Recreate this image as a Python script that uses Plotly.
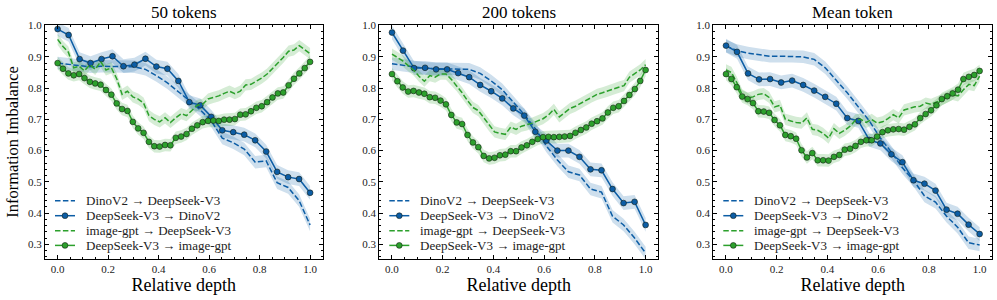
import numpy as np
import plotly.graph_objects as go

# ---------------- data ----------------
panel_titles = ["50 tokens", "200 tokens", "Mean token"]
series_names = ["DinoV2 \u2192 DeepSeek-V3", "DeepSeek-V3 \u2192 DinoV2",
                "image-gpt \u2192 DeepSeek-V3", "DeepSeek-V3 \u2192 image-gpt"]

depth_dino = np.linspace(0, 1, 24)   # relative depth, 24 layers
depth_igpt = np.linspace(0, 1, 48)   # relative depth, 48 layers

# Panel 1: 50 tokens
p1_dino_to_ds = [0.880, 0.876, 0.872, 0.868, 0.870, 0.870, 0.870, 0.868, 0.860, 0.840, 0.817, 0.790,
                 0.760, 0.730, 0.695, 0.640, 0.625, 0.605, 0.563, 0.567, 0.497, 0.482, 0.440, 0.362]
p1_ds_to_dino = [0.989, 0.970, 0.893, 0.880, 0.893, 0.902, 0.870, 0.875, 0.894, 0.869, 0.862, 0.823,
                 0.755, 0.745, 0.708, 0.665, 0.659, 0.651, 0.633, 0.597, 0.532, 0.515, 0.509, 0.465]
p1_igpt_to_ds = [0.956, 0.933, 0.915, 0.865, 0.870, 0.855, 0.875, 0.860, 0.885, 0.858, 0.865, 0.830,
                 0.780, 0.790, 0.772, 0.765, 0.752, 0.712, 0.700, 0.692, 0.705, 0.690, 0.705, 0.718,
                 0.712, 0.728, 0.745, 0.748, 0.765, 0.770, 0.775, 0.783, 0.790, 0.782, 0.790, 0.810,
                 0.812, 0.822, 0.832, 0.845, 0.862, 0.880, 0.898, 0.918, 0.922, 0.936, 0.922, 0.910]
p1_ds_to_igpt = [0.880, 0.862, 0.847, 0.841, 0.845, 0.832, 0.820, 0.815, 0.811, 0.794, 0.779, 0.751,
                 0.733, 0.727, 0.692, 0.671, 0.657, 0.628, 0.614, 0.613, 0.618, 0.617, 0.641, 0.645,
                 0.653, 0.670, 0.681, 0.691, 0.695, 0.696, 0.695, 0.699, 0.699, 0.701, 0.715, 0.716,
                 0.726, 0.737, 0.742, 0.755, 0.770, 0.783, 0.786, 0.809, 0.830, 0.847, 0.864, 0.884]

# Panel 2: 200 tokens
p2_dino_to_ds = [0.878, 0.873, 0.868, 0.863, 0.862, 0.862, 0.862, 0.860, 0.847, 0.823, 0.795, 0.755,
                 0.715, 0.670, 0.615, 0.570, 0.532, 0.522, 0.477, 0.467, 0.390, 0.362, 0.320, 0.272]
p2_ds_to_dino = [0.978, 0.920, 0.864, 0.865, 0.860, 0.860, 0.848, 0.835, 0.810, 0.790, 0.767, 0.735,
                 0.712, 0.660, 0.632, 0.600, 0.600, 0.580, 0.540, 0.537, 0.477, 0.432, 0.436, 0.362]
p2_igpt_to_ds = [0.909, 0.898, 0.887, 0.872, 0.858, 0.838, 0.822, 0.840, 0.835, 0.845, 0.845, 0.828,
                 0.808, 0.785, 0.760, 0.738, 0.728, 0.705, 0.680, 0.660, 0.655, 0.652, 0.675, 0.668,
                 0.678, 0.682, 0.688, 0.695, 0.702, 0.714, 0.732, 0.708, 0.722, 0.735, 0.742, 0.752,
                 0.762, 0.772, 0.780, 0.785, 0.790, 0.797, 0.803, 0.808, 0.835, 0.846, 0.858, 0.875]
p2_ds_to_igpt = [0.845, 0.822, 0.802, 0.789, 0.791, 0.786, 0.782, 0.771, 0.769, 0.760, 0.748, 0.714,
                 0.690, 0.685, 0.650, 0.626, 0.611, 0.583, 0.575, 0.577, 0.585, 0.587, 0.598, 0.598,
                 0.610, 0.617, 0.628, 0.637, 0.643, 0.644, 0.643, 0.644, 0.645, 0.647, 0.657, 0.666,
                 0.674, 0.686, 0.694, 0.703, 0.722, 0.737, 0.742, 0.759, 0.778, 0.797, 0.823, 0.858]

# Panel 3: mean token
p3_dino_to_ds = [0.935, 0.920, 0.912, 0.907, 0.902, 0.902, 0.902, 0.900, 0.892, 0.865, 0.825, 0.785,
                 0.740, 0.695, 0.640, 0.595, 0.545, 0.505, 0.455, 0.435, 0.390, 0.355, 0.305, 0.298]
p3_ds_to_dino = [0.936, 0.916, 0.847, 0.828, 0.829, 0.818, 0.824, 0.810, 0.792, 0.772, 0.750, 0.704,
                 0.695, 0.634, 0.623, 0.588, 0.563, 0.505, 0.494, 0.472, 0.411, 0.398, 0.363, 0.333]
p3_igpt_to_ds = [0.858, 0.850, 0.818, 0.778, 0.768, 0.772, 0.780, 0.782, 0.770, 0.740, 0.745, 0.700,
                 0.695, 0.690, 0.688, 0.705, 0.668, 0.665, 0.655, 0.640, 0.670, 0.655, 0.665, 0.678,
                 0.698, 0.700, 0.690, 0.700, 0.688, 0.692, 0.702, 0.715, 0.705, 0.730, 0.735, 0.740,
                 0.742, 0.752, 0.748, 0.755, 0.762, 0.770, 0.780, 0.775, 0.795, 0.812, 0.808, 0.838]
p3_ds_to_igpt = [0.845, 0.829, 0.803, 0.773, 0.765, 0.752, 0.726, 0.725, 0.721, 0.698, 0.681, 0.650,
                 0.646, 0.638, 0.601, 0.578, 0.592, 0.569, 0.569, 0.568, 0.580, 0.586, 0.603, 0.606,
                 0.615, 0.628, 0.633, 0.633, 0.645, 0.659, 0.665, 0.668, 0.669, 0.667, 0.676, 0.684,
                 0.704, 0.717, 0.729, 0.745, 0.765, 0.774, 0.783, 0.795, 0.829, 0.836, 0.842, 0.855]

# half-width of the shaded uncertainty band per series
band_halfwidth = [0.02, 0.022, 0.018, 0.02]

x_ticks = [0.0, 0.2, 0.4, 0.6, 0.8, 1.0]
y_ticks = [0.3, 0.4, 0.5, 0.6, 0.7, 0.8, 0.9, 1.0]

panels = [
    (p1_dino_to_ds, p1_ds_to_dino, p1_igpt_to_ds, p1_ds_to_igpt),
    (p2_dino_to_ds, p2_ds_to_dino, p2_igpt_to_ds, p2_ds_to_igpt),
    (p3_dino_to_ds, p3_ds_to_dino, p3_igpt_to_ds, p3_ds_to_igpt),
]

# ---------------- style ----------------
BLUE = "#0C5DA5"
GREEN = "#2ca02c"
BLUE_FILL = "rgba(12,93,165,0.2)"
GREEN_FILL = "rgba(44,160,44,0.2)"
FONT = "Liberation Serif"
DASH = "5.5px,2.4px"
MARKER_EDGE = "rgba(20,30,20,0.85)"

series_style = [
    dict(color=BLUE, fill=BLUE_FILL, dash=DASH, markers=False, x=depth_dino),
    dict(color=BLUE, fill=BLUE_FILL, dash="solid", markers=True, x=depth_dino),
    dict(color=GREEN, fill=GREEN_FILL, dash=DASH, markers=False, x=depth_igpt),
    dict(color=GREEN, fill=GREEN_FILL, dash="solid", markers=True, x=depth_igpt),
]

W, H = 997, 300
FRAME_TOP, FRAME_BOTTOM = 25, 259
x_px = [(45, 322.7), (379.3, 658.3), (713.3, 992.3)]
x_domains = [(a / W, b / W) for a, b in x_px]
y_domain = (1 - FRAME_BOTTOM / H, 1 - FRAME_TOP / H)
frame_h = FRAME_BOTTOM - FRAME_TOP

# legend row centres (px from top) and horizontal layout (px from frame left)
legend_rows = [200.7, 215.7, 230.7, 245.4]
LEG_LINE = (10, 30)
LEG_TEXT = 39

fig = go.Figure()
shapes, annotations = [], []

for p, vals in enumerate(panels):
    sfx = "" if p == 0 else str(p + 1)
    xa, ya = "x" + sfx, "y" + sfx
    # bands first
    for s, v in enumerate(vals):
        st = series_style[s]
        v = np.array(v)
        lo = v - band_halfwidth[s]
        hi = v + band_halfwidth[s]
        xs = np.concatenate([st["x"], st["x"][::-1]])
        ys = np.concatenate([hi, lo[::-1]])
        fig.add_trace(go.Scatter(x=xs, y=ys, fill="toself", fillcolor=st["fill"],
                                 line=dict(width=0), mode="lines", hoverinfo="skip",
                                 showlegend=False, xaxis=xa, yaxis=ya))
    for s, v in enumerate(vals):
        st = series_style[s]
        fig.add_trace(go.Scatter(
            x=st["x"], y=v, name=series_names[s],
            mode="lines+markers" if st["markers"] else "lines",
            line=dict(color=st["color"], width=1.5, dash=st["dash"]),
            marker=dict(size=5.8, color=st["color"], line=dict(color=MARKER_EDGE, width=0.7)),
            xaxis=xa, yaxis=ya, showlegend=False))

    # legend (drawn in the panel's domain coordinates)
    fw = x_px[p][1] - x_px[p][0]
    for s, row in enumerate(legend_rows):
        st = series_style[s]
        yd = (FRAME_BOTTOM - row) / frame_h
        shapes.append(dict(type="line", xref=xa + " domain", yref=ya + " domain",
                           x0=LEG_LINE[0] / fw, x1=LEG_LINE[1] / fw, y0=yd, y1=yd,
                           line=dict(color=st["color"], width=1.5, dash=st["dash"])))
        if st["markers"]:
            xm = (LEG_LINE[0] + LEG_LINE[1]) / 2 / fw
            shapes.append(dict(type="circle", xref=xa + " domain", yref=ya + " domain",
                               xsizemode="pixel", ysizemode="pixel", xanchor=xm, yanchor=yd,
                               x0=-2.9, x1=2.9, y0=-2.9, y1=2.9,
                               fillcolor=st["color"], line=dict(color=MARKER_EDGE, width=0.7)))
        annotations.append(dict(text=series_names[s], xref=xa + " domain", yref=ya + " domain",
                                x=LEG_TEXT / fw, y=yd, xanchor="left", yanchor="middle",
                                showarrow=False, font=dict(family=FONT, size=13, color="#222")))

axis_common = dict(showline=True, linecolor="black", linewidth=1, mirror="allticks",
                   ticks="inside", ticklen=4, tickwidth=0.8, tickcolor="black",
                   showgrid=False, zeroline=False, automargin=False,
                   tickfont=dict(family=FONT, size=11, color="#222"))

layout = dict(width=W, height=H, margin=dict(l=0, r=0, t=0, b=0),
              plot_bgcolor="white", paper_bgcolor="white",
              font=dict(family=FONT, color="black"), showlegend=False)

for p in range(3):
    sfx = "" if p == 0 else str(p + 1)
    layout["xaxis" + sfx] = dict(
        axis_common, domain=list(x_domains[p]), range=[-0.05, 1.05], anchor="y" + sfx,
        tickvals=x_ticks, ticktext=["%.1f" % t for t in x_ticks],
        minor=dict(ticks="inside", ticklen=2, tickwidth=0.6, tickcolor="black", dtick=0.05, tick0=0),
        title=dict(text="Relative depth", font=dict(family=FONT, size=18), standoff=2))
    layout["yaxis" + sfx] = dict(
        axis_common, domain=list(y_domain), range=[0.253, 1.002], anchor="x" + sfx,
        tickvals=y_ticks, ticktext=["%.1f" % t for t in y_ticks],
        minor=dict(ticks="inside", ticklen=2, tickwidth=0.6, tickcolor="black", dtick=0.02, tick0=0),
        title=dict(text="Information Imbalance" if p == 0 else "",
                   font=dict(family=FONT, size=16.5), standoff=5))
    annotations.append(dict(
        text=panel_titles[p], xref="x" + sfx + " domain", yref="paper",
        x=0.5, y=1 - 12.5 / H, xanchor="center", yanchor="middle", showarrow=False,
        font=dict(family=FONT, size=17, color="black")))

layout["shapes"] = shapes
layout["annotations"] = annotations
fig.update_layout(**layout)
fig.write_html("out.html", config={"displayModeBar": False},
               post_script="document.body.style.margin='0';document.body.style.overflow='hidden';")
